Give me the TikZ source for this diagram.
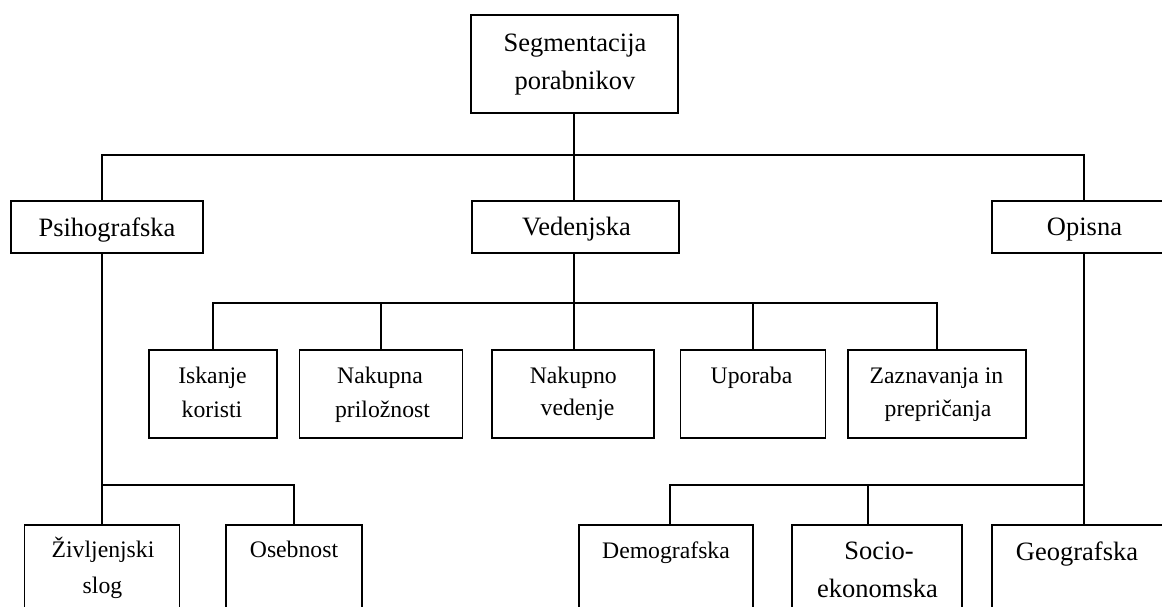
\documentclass[tikz,border=0pt]{standalone}
\usepackage{fontspec}
\setmainfont{Liberation Serif}
\begin{document}
\begin{tikzpicture}[x=1pt,y=-1pt,
  box/.style={draw, rectangle, inner sep=0pt, outer sep=0pt, line width=1.8pt},
  conn/.style={line width=1.8pt},
  big/.style={inner sep=0pt, anchor=base, font=\fontsize{26.5}{32}\selectfont},
  small/.style={inner sep=0pt, anchor=base, font=\fontsize{23.7}{29}\selectfont}]
\useasboundingbox (0,0) rectangle (1162,607);
\begin{scope}
\clip (0,0) rectangle (1162,607);
% boxes
\node[box, minimum width=207pt, minimum height=98pt] (top) at (574.5,64) {};
\node[box, minimum width=192pt, minimum height=52pt] (psi) at (107,227) {};
\node[box, minimum width=207pt, minimum height=52pt] (ved) at (575.5,227) {};
\node[box, minimum width=184pt, minimum height=52pt] (opi) at (1084,227) {};
\node[box, minimum width=128pt, minimum height=88pt] (isk) at (213,394) {};
\node[box, minimum width=163pt, minimum height=88pt] (nap) at (381,394) {};
\node[box, minimum width=162pt, minimum height=88pt] (nav) at (573,394) {};
\node[box, minimum width=145pt, minimum height=88pt] (upo) at (753,394) {};
\node[box, minimum width=178pt, minimum height=88pt] (zaz) at (937,394) {};
\node[box, minimum width=155pt, minimum height=115pt] (ziv) at (102,582.5) {};
\node[box, minimum width=136pt, minimum height=115pt] (ose) at (294,582.5) {};
\node[box, minimum width=174pt, minimum height=115pt] (dem) at (666,582.5) {};
\node[box, minimum width=170pt, minimum height=115pt] (soc) at (877,582.5) {};
\node[box, minimum width=176pt, minimum height=115pt] (geo) at (1080,582.5) {};
% texts
\node[big] (t-top1) at (575,52) {Segmentacija};
\node[big] (t-top2) at (575,89.5) {porabnikov};
\node[big] (t-psi) at (107,236) {Psihografska};
\node[big] (t-ved) at (576.5,235) {Vedenjska};
\node[big] (t-opi) at (1084.5,235) {Opisna};
\node[small] (t-isk1) at (212.5,383) {Iskanje};
\node[small] (t-isk2) at (212,417) {koristi};
\node[small] (t-nap1) at (380,383) {Nakupna};
\node[small] (t-nap2) at (382.5,417) {priložnost};
\node[small] (t-nav1) at (573.3,383) {Nakupno};
\node[small] (t-nav2) at (577.5,415) {vedenje};
\node[small] (t-upo) at (751.5,383) {Uporaba};
\node[small] (t-zaz1) at (936.5,383) {Zaznavanja in};
\node[small] (t-zaz2) at (938,416) {prepričanja};
\node[small] (t-ziv1) at (103,557) {Življenjski};
\node[small] (t-ziv2) at (102.5,593) {slog};
\node[small] (t-ose) at (294,557) {Osebnost};
\node[small] (t-dem) at (666,558) {Demografska};
\node[big] (t-soc1) at (879,559) {Socio-};
\node[big] (t-soc2) at (877.5,597) {ekonomska};
\node[big] (t-geo) at (1077,560) {Geografska};
% junction coordinates
\coordinate (bt) at (574,155);
\coordinate (bl) at (102,155);
\coordinate (br) at (1084,155);
\coordinate (m0) at (574,303);
\coordinate (m1) at (213,303);
\coordinate (m2) at (381,303);
\coordinate (m4) at (753,303);
\coordinate (m5) at (937,303);
\coordinate (l1) at (102,485);
\coordinate (l2) at (294,485);
\coordinate (r0) at (1084,485);
\coordinate (r1) at (670,485);
\coordinate (r2) at (868,485);
% connectors
\draw[conn] (top.south -| bt) -- (bt);
\draw[conn] (bl |- psi.north) -- (bl) -- (br) -- (br |- opi.north);
\draw[conn] (bt) -- (bt |- ved.north);
\draw[conn] (ved.south -| m0) -- (m0) -- (m0 |- nav.north);
\draw[conn] (m1 |- isk.north) -- (m1) -- (m5) -- (m5 |- zaz.north);
\draw[conn] (m2) -- (m2 |- nap.north);
\draw[conn] (m4) -- (m4 |- upo.north);
\draw[conn] (psi.south -| l1) -- (l1) -- (l2) -- (l2 |- ose.north);
\draw[conn] (l1) -- (l1 |- ziv.north);
\draw[conn] (opi.south -| r0) -- (r0) -- (r1) -- (r1 |- dem.north);
\draw[conn] (r2) -- (r2 |- soc.north);
\draw[conn] (r0) -- (r0 |- geo.north);
\end{scope}
\end{tikzpicture}
\end{document}
